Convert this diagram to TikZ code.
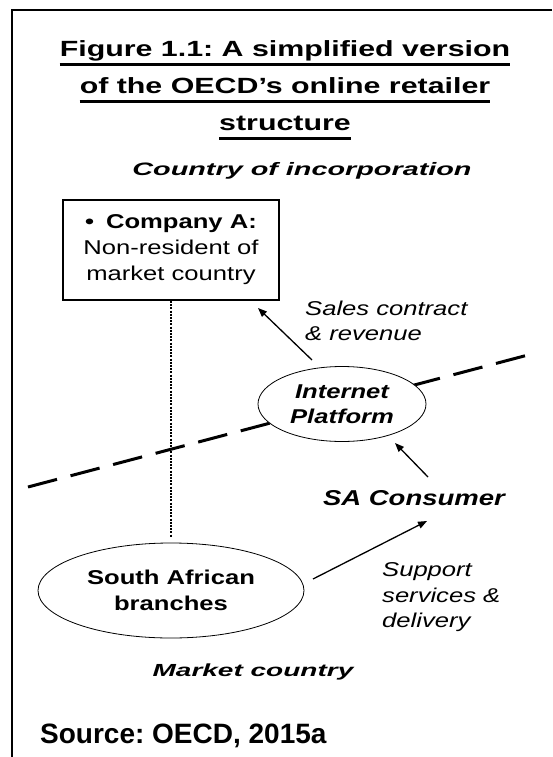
\documentclass[tikz,border=0pt]{standalone}
\usepackage{fontspec}
\setmainfont{Liberation Sans}
\newfontfamily\diagfont[FakeStretch=1.28]{Liberation Sans}
\newfontfamily\widefont[FakeStretch=1.6]{Liberation Sans}
\newfontfamily\headfont[FakeStretch=1.38]{Liberation Sans}
\usetikzlibrary{arrows.meta,positioning,shapes.geometric,backgrounds}
\frenchspacing

\begin{document}
\begin{tikzpicture}[
  x=1pt, y=-1pt,
  font=\diagfont\fontsize{20}{26}\selectfont,
  head/.style={font=\headfont\bfseries\fontsize{22}{26}\selectfont,inner sep=0pt,anchor=base},
  uline/.style={line width=3pt},
  region/.style={font=\widefont\bfseries\itshape\fontsize{18}{22}\selectfont,inner sep=0pt},
  firm/.style={draw,line width=1.8pt,minimum width=216pt,minimum height=100pt,align=center,inner sep=0pt},
  oval/.style={draw,ellipse,line width=0.8pt,fill=white,align=center,inner sep=0pt},
  note/.style={font=\diagfont\itshape\fontsize{20}{25.5}\selectfont,align=left,anchor=west,inner sep=0pt},
  arr/.style={-{Triangle[length=9pt,width=7pt]},line width=1.3pt},
  border/.style={line width=1.4pt},
  split/.style={line width=3pt,dash pattern=on 30pt off 14pt},
  link/.style={line width=2.4pt,dash pattern=on 2pt off 1.2pt},
]
\useasboundingbox (0,0) rectangle (552,757);
\draw[border] (552,10) -- (12,10) -- (12,757);

% heading, three underlined lines
\node[head] (t1) at (285,57) {Figure 1.1: A simplified version};
\node[head] (t2) at (285,94) {of the OECD’s online retailer};
\node[head] (t3) at (285,131) {structure};
\foreach \t in {t1,t2,t3}
  \draw[uline] ([yshift=-7.5pt]\t.base west) -- ([yshift=-7.5pt]\t.base east);

\node[region] (home) at (302,171) {Country of incorporation};

\node[firm] (firm) at (171,250) {{\bfseries\textbullet\hspace{12pt}Company A:}\\Non-resident of\\market country};
\node[oval,minimum width=168pt,minimum height=75pt,font=\diagfont\bfseries\itshape\fontsize{20}{25}\selectfont] (ip) at (342,404) {Internet\\Platform};
\node[font=\diagfont\bfseries\itshape\fontsize{21.5}{24}\selectfont,inner sep=0pt] (consumer) at (414,498) {SA Consumer};
\node[oval,minimum width=266pt,minimum height=95pt,font=\diagfont\bfseries\fontsize{20}{26}\selectfont] (branches) at (171,590.5) {South African\\branches};

\node[note] (sales) at (305,321) {Sales contract\\\& revenue};
\node[note] (support) at (382,597.5) {Support\\services \&\\delivery};

\node[region,font=\widefont\bfseries\itshape\fontsize{17.5}{22}\selectfont] (market) at (253,672) {Market country};
\node[font=\bfseries\fontsize{28}{32}\selectfont,inner sep=0pt,anchor=base west] (src) at (40,743) {Source: OECD, 2015a};

% border between the two countries
\coordinate (cutW) at (28,487);
\coordinate (cutE) at (528,355);
\begin{scope}[on background layer]
  \draw[split] (cutW) -- (cutE);
\end{scope}

% arrow ends
\coordinate (revTail) at (312,360);
\coordinate (revTip) at (258,308);
\coordinate (buyTail) at (428,477);
\coordinate (buyTip) at (395,443);
\coordinate (shipTail) at (313,579);
\coordinate (shipTip) at (427,521);

\draw[link,shorten >=5pt] (firm.south) -- (branches.north);
\draw[arr] (revTail) -- (revTip);
\draw[arr] (buyTail) -- (buyTip);
\draw[arr] (shipTail) -- (shipTip);
\end{tikzpicture}
\end{document}
